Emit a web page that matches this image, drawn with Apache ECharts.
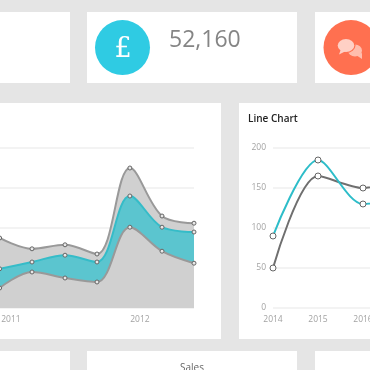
<!DOCTYPE html>
<html>
<head>
<meta charset="utf-8">
<style>
  html, body { margin: 0; padding: 0; background: #e5e5e5; overflow: hidden; }
  #main { width: 370px; height: 370px; }
</style>
<script src="https://cdn.jsdelivr.net/npm/echarts@6/dist/echarts.min.js"></script>
</head>
<body>
<div id="main"></div>
<script>
// area chart (x is in years, the reference shows quarterly points)
const areaPeriods = [2010.912, 2011.163, 2011.419, 2011.667, 2011.922, 2012.171, 2012.419];
const areaTop = [87.5, 74, 79, 67.5, 175, 115, 106];
const areaMiddle = [49, 57.5, 66, 57.5, 140, 101, 95];
const areaLower = [25, 45, 37.5, 32.5, 101, 71, 56];

// line chart, last year is past the edge of the picture
const lineYears = ["2014", "2015", "2016", "2017"];
const lineTeal = [90, 185, 130, 140];
const lineGrey = [50, 165, 150, 165];
const yTicks = [0, 50, 100, 150, 200];

const statValue = "52,160";
const FONT = '"Open Sans", sans-serif';
const pair = (xs, ys) => xs.map((x, i) => [x, ys[i]]);

const card = (x, y, width, height) => ({
  type: "rect",
  shape: { x, y, width, height },
  style: { fill: "#fff" },
  z: -10,
});

const areaSeries = (data, lineColor, fill, z) => ({
  type: "line",
  xAxisIndex: 0,
  yAxisIndex: 0,
  data: pair(areaPeriods, data),
  smooth: 0.35,
  symbol: "circle",
  symbolSize: 4,
  clip: false,
  z,
  lineStyle: { color: lineColor, width: 2 },
  itemStyle: { color: "#e8e8e8", borderColor: "#666", borderWidth: 1 },
  areaStyle: { color: fill, opacity: 1 },
});

const lineSeries = (data, color) => ({
  type: "line",
  xAxisIndex: 1,
  yAxisIndex: 1,
  data,
  smooth: 0.3,
  symbol: "circle",
  symbolSize: 6,
  lineStyle: { color, width: 2 },
  itemStyle: { color: "#fff", borderColor: "#666", borderWidth: 1 },
});

const splitLine = { show: true, lineStyle: { color: "#efefef", width: 1.5 } };
const tickLabel = { color: "#a3a3a3", fontSize: 8.5, fontFamily: FONT };

// chat icon: a round bubble with a small tail
const bubble = (cx, cy, rx, ry, tail, fill) => [
  { type: "circle", x: cx, y: cy, scaleX: rx / ry, shape: { cx: 0, cy: 0, r: ry }, style: { fill }, z: 5 },
  { type: "polygon", shape: { points: tail }, style: { fill }, z: 5 },
];

const option = {
  animation: false,
  backgroundColor: "#e5e5e5",
  grid: [
    // both plots run past the edge of the picture
    { left: -118, width: 312, top: 148, height: 160, outerBoundsMode: "none" },
    { left: 273, width: 135, top: 148, height: 160, outerBoundsMode: "none" },
  ],
  xAxis: [
    {
      gridIndex: 0,
      type: "value",
      min: 2010,
      max: 2012.419,
      interval: 1,
      splitLine: { show: false },
      axisLine: { show: false },
      axisTick: { show: false },
      axisLabel: { ...tickLabel, margin: 7, showMaxLabel: false, formatter: (v) => String(v) },
    },
    {
      gridIndex: 1,
      type: "category",
      data: lineYears,
      boundaryGap: false,
      axisLine: { show: false },
      axisTick: { show: false },
      axisLabel: { ...tickLabel, margin: 7 },
    },
  ],
  yAxis: [
    {
      gridIndex: 0,
      type: "value",
      min: 0,
      max: 200,
      interval: 50,
      splitLine,
      axisLine: { show: false },
      axisTick: { show: false },
      axisLabel: { show: false },
    },
    {
      gridIndex: 1,
      type: "value",
      min: yTicks[0],
      max: yTicks[yTicks.length - 1],
      interval: 50,
      splitLine,
      axisLine: { show: false },
      axisTick: { show: false },
      axisLabel: { ...tickLabel, margin: 7 },
    },
  ],
  series: [
    areaSeries(areaTop, "#999", "#d0d0d0", 2),
    areaSeries(areaMiddle, "#35bcc8", "#5bc5cf", 3),
    areaSeries(areaLower, "#999", "#d0d0d0", 4),
    lineSeries(lineGrey, "#6f6f6f"),
    lineSeries(lineTeal, "#2dbdc9"),
  ],
  graphic: [
    card(-10, 12, 80, 71),
    card(87, 12, 210, 71),
    card(315, 12, 70, 71),
    card(-10, 103, 231, 236),
    card(239, 103, 146, 236),
    card(-10, 351, 80, 30),
    card(87, 351, 210, 30),
    card(315, 351, 70, 30),
    { type: "circle", shape: { cx: 122.5, cy: 47.6, r: 27.5 }, style: { fill: "#2fcbe3" } },
    { type: "circle", shape: { cx: 351, cy: 47.6, r: 27.5 }, style: { fill: "#ff7050" } },
    {
      type: "text",
      style: { text: "£", x: 123, y: 50, fill: "#fff", font: '27px "DejaVu Serif", serif', textAlign: "center", textVerticalAlign: "middle" },
    },
    {
      type: "text",
      style: { text: statValue, x: 169, y: 40, fill: "#858585", font: "23px " + FONT, textAlign: "left", textVerticalAlign: "middle" },
    },
    {
      type: "text",
      style: { text: "Line Chart", x: 248, y: 119, fill: "#222", font: "600 10px " + FONT, textAlign: "left", textVerticalAlign: "middle" },
    },
    {
      type: "text",
      style: { text: "Sales", x: 192, y: 368, fill: "#666", font: "10px " + FONT, textAlign: "center", textVerticalAlign: "middle" },
    },
    ...bubble(355, 50.5, 7, 6, [[356, 55], [362, 53], [362, 59]], "#ffbdad"),
    { type: "circle", x: 346, y: 45.5, scaleX: 9.5 / 7.5, shape: { cx: 0, cy: 0, r: 7.5 }, style: { fill: "#ff7050" }, z: 5 },
    ...bubble(346, 45.5, 8.3, 6.5, [[341, 49], [346, 51], [339, 54.5]], "#ffd0c5"),
  ],
};

const myChart = echarts.init(document.getElementById("main"), null, { renderer: "canvas" });
myChart.setOption(option);
</script>
</body>
</html>
